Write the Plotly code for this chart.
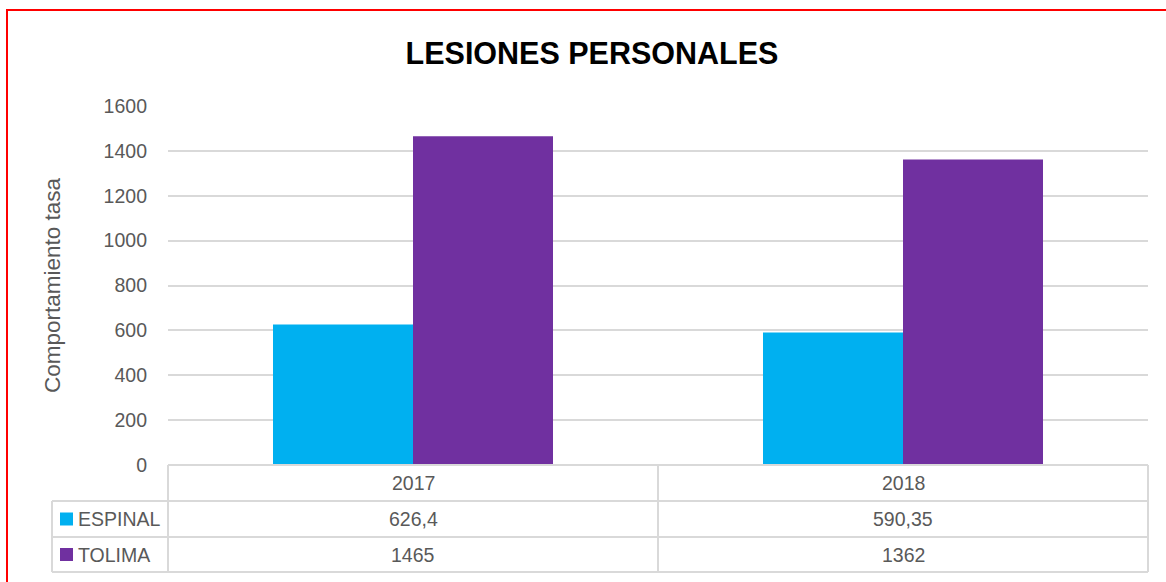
import plotly.graph_objects as go

years = ['2017', '2018']
espinal = [626.4, 590.35]
tolima = [1465, 1362]
espinal_txt = ['626,4', '590,35']
tolima_txt = ['1465', '1362']
series = [('ESPINAL', espinal, espinal_txt, '#00B0F0'),
          ('TOLIMA', tolima, tolima_txt, '#7030A0')]

W, H = 1166, 582
FONT = 'Liberation Sans, Arial, sans-serif'
GRID = '#d9d9d9'
TXT = '#595959'

def px(x):
    return x / W

def py(y):
    return 1 - y / H

# pixel geometry of the plot area and data table
left, right, top, base = 168, 1148, 106, 465
tab_left = 52
rows = [465, 501, 537, 572]
col_mid = (left + right) / 2

plots = []
for name, vals, _, color in series:
    plots.append(go.Bar(x=years, y=vals, name=name,
                        marker={'color': color, 'line': {'width': 0}}))

shapes = []
line = {'color': GRID, 'width': 2}
# horizontal table lines
shapes.append(dict(type='line', xref='paper', yref='paper', x0=px(left), x1=px(right),
                   y0=py(rows[0]), y1=py(rows[0]), line=line))
for r in rows[1:]:
    shapes.append(dict(type='line', xref='paper', yref='paper', x0=px(tab_left), x1=px(right),
                       y0=py(r), y1=py(r), line=line))
# vertical table lines
shapes.append(dict(type='line', xref='paper', yref='paper', x0=px(tab_left), x1=px(tab_left),
                   y0=py(rows[1]), y1=py(rows[3]), line=line))
for c in [left, col_mid, right]:
    shapes.append(dict(type='line', xref='paper', yref='paper', x0=px(c), x1=px(c),
                       y0=py(rows[0]), y1=py(rows[3]), line=line))
# red frame
shapes.append(dict(type='rect', xref='paper', yref='paper', x0=px(7), x1=px(W + 20),
                   y0=py(H + 20), y1=py(10), line={'color': '#ff0000', 'width': 2}))

cell_font = {'size': 19.5, 'color': TXT, 'family': FONT}
annotations = []
col_centers = [(left + col_mid) / 2, (col_mid + right) / 2]
for i, yr in enumerate(years):
    annotations.append(dict(x=px(col_centers[i]), y=py((rows[0] + rows[1]) / 2), xref='paper', yref='paper',
                            xanchor='center', yanchor='middle',
                            text=yr, showarrow=False, font=cell_font))
for j, (name, vals, txt, color) in enumerate(series):
    yc = py((rows[j + 1] + rows[j + 2]) / 2)
    shapes.append(dict(type='rect', xref='paper', yref='paper', x0=px(60), x1=px(73),
                       y0=yc - 6.5 / H, y1=yc + 6.5 / H, fillcolor=color, line={'width': 0}))
    annotations.append(dict(x=px(76), y=yc, xref='paper', yref='paper', xanchor='left', yanchor='middle',
                            text=name, showarrow=False, font=cell_font))
    for i, t in enumerate(txt):
        annotations.append(dict(x=px(col_centers[i]), y=yc, xref='paper', yref='paper',
                                xanchor='center', yanchor='middle',
                                text=t, showarrow=False, font=cell_font))

plot_layout = go.Layout(width=W, height=H,
                        plot_bgcolor='white',
                        paper_bgcolor='white',
                        font={'family': FONT, 'color': TXT},
                        margin=dict(l=0, r=0, t=0, b=0, pad=0, autoexpand=False),
                        title={'text': '<b>LESIONES PERSONALES</b>', 'x': px(592), 'xanchor': 'center',
                               'y': py(53), 'yanchor': 'middle',
                               'font': {'size': 30.5, 'color': '#000000', 'family': FONT}},
                        barmode='group', bargap=1 - 280 / 490, bargroupgap=0,
                        showlegend=False,
                        xaxis={'domain': [px(left), px(right)], 'range': [-0.5, 1.5],
                               'showticklabels': False, 'showgrid': False, 'zeroline': False},
                        yaxis={'domain': [py(base), py(top)], 'range': [0, 1600], 'dtick': 200,
                               'showgrid': True, 'gridcolor': GRID, 'gridwidth': 1.5,
                               'zeroline': False, 'ticklabelstandoff': 20, 'automargin': False,
                               'tickfont': {'size': 19.5, 'color': TXT},
                               'title': {'text': 'Comportamiento tasa', 'standoff': 36,
                                         'font': {'size': 22.5, 'color': TXT}}},
                        shapes=shapes, annotations=annotations)

fig = go.Figure(data=plots, layout=plot_layout)
fig.write_html('out.html', config={'displayModeBar': False},
               post_script="document.body.style.margin='0';")
